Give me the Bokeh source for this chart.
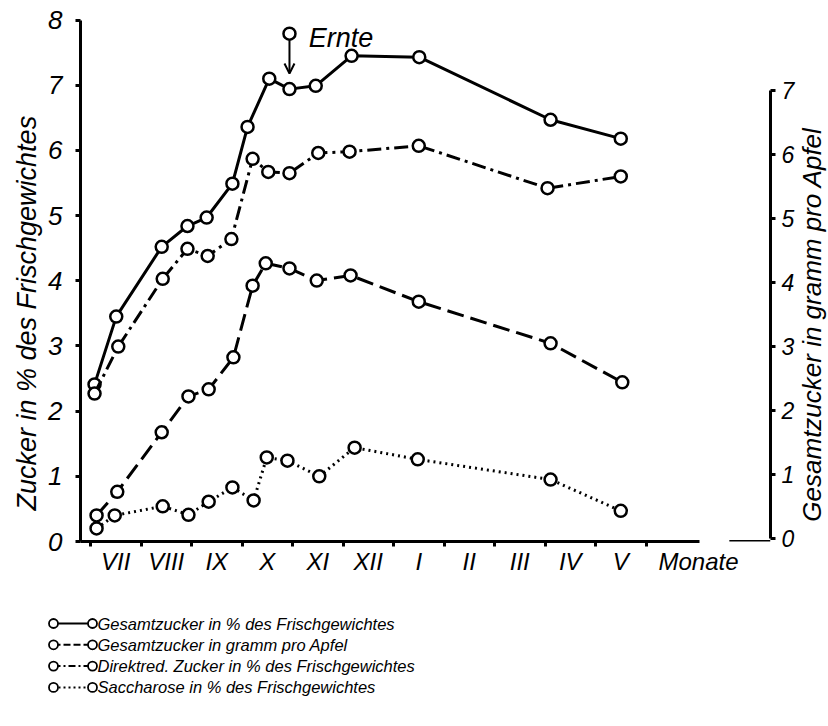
import math
from bokeh.plotting import figure
from bokeh.models import Range1d, LinearAxis, FixedTicker, Label, Arrow, OpenHead, Title
from bokeh.layouts import row
from bokeh.embed import file_html
from bokeh.resources import INLINE
from bokeh.core.properties import value

# ---------------- data (x in months after 1 July) ----------------
months = ["VII", "VIII", "IX", "X", "XI", "XII", "I", "II", "III", "IV", "V"]
month_axis_name = "Monate"
y_left_label = "Zucker in % des Frischgewichtes"
y_right_label = "Gesamtzucker in gramm pro Apfel"
left_ticks = [0, 1, 2, 3, 4, 5, 6, 7, 8]
right_ticks = [0, 1, 2, 3, 4, 5, 6, 7]

series_names = [
    "Gesamtzucker in % des Frischgewichtes",
    "Gesamtzucker in gramm pro Apfel",
    "Direktred. Zucker in % des Frischgewichtes",
    "Saccharose in % des Frischgewichtes",
]

ges_pct_x = [0.08, 0.51, 1.41, 1.92, 2.30, 2.81, 3.11, 3.54, 3.94, 4.46, 5.17, 6.51, 9.11, 10.50]
ges_pct_y = [2.41, 3.45, 4.52, 4.84, 4.97, 5.49, 6.36, 7.10, 6.94, 6.99, 7.45, 7.43, 6.47, 6.18]

ges_g_x = [0.12, 0.53, 1.41, 1.94, 2.34, 2.83, 3.21, 3.47, 3.94, 4.48, 5.15, 6.50, 9.11, 10.53]
ges_g_y = [0.36, 0.73, 1.66, 2.22, 2.33, 2.83, 3.95, 4.30, 4.22, 4.03, 4.11, 3.70, 3.05, 2.44]

direkt_x = [0.08, 0.55, 1.43, 1.92, 2.32, 2.79, 3.21, 3.52, 3.94, 4.51, 5.13, 6.50, 9.05, 10.50]
direkt_y = [2.27, 2.99, 4.03, 4.49, 4.38, 4.64, 5.87, 5.67, 5.65, 5.96, 5.98, 6.07, 5.42, 5.60]

sacch_x = [0.12, 0.48, 1.43, 1.94, 2.34, 2.81, 3.23, 3.49, 3.90, 4.53, 5.23, 6.48, 9.11, 10.50]
sacch_y = [0.20, 0.40, 0.54, 0.41, 0.61, 0.83, 0.63, 1.29, 1.24, 1.00, 1.44, 1.26, 0.95, 0.47]

harvest_x = 3.94
harvest_label = "Ernte"
monate_x = 12.04

# ---------------- styles ----------------
FONT = "Liberation Sans"
INK = "black"
dashes = ["solid", "17 7", "14 5 3 5", "2 4"]
leg_dashes = ["solid", "7 3", "7 3 2 3", "2 3"]

W = 828
PW, PH = 798, 600
BT, BB = 13, 59
p = figure(width=PW, height=PH, output_backend="svg", toolbar_location=None,
           x_range=Range1d(-0.198, 13.465), y_range=Range1d(0, 8.1),
           x_axis_location=None, y_axis_location=None,
           min_border_left=80, min_border_right=28, min_border_top=BT, min_border_bottom=BB)
p.grid.visible = False
p.outline_line_color = None
p.background_fill_color = "white"
p.border_fill_color = "white"
p.extra_y_ranges = {"g": Range1d(-0.047, 8.203)}

left = LinearAxis(ticker=FixedTicker(ticks=left_ticks), bounds=(0, 8))
right = LinearAxis(y_range_name="g", ticker=FixedTicker(ticks=right_ticks), bounds=(0, 7))
for ax, size, stand in ((left, "26px", 13), (right, "23px", 6)):
    ax.axis_line_width = 3
    ax.axis_line_color = INK
    ax.major_tick_line_width = 3
    ax.major_tick_line_color = INK
    ax.major_tick_out = 5
    ax.major_tick_in = 0
    ax.minor_tick_line_color = None
    ax.major_label_text_font = FONT
    ax.major_label_text_font_size = size
    ax.major_label_text_font_style = "italic"
    ax.major_label_text_color = INK
    ax.major_label_standoff = stand
p.add_layout(left, "left")
p.add_layout(right, "right")
p.add_layout(Title(text=y_left_label, align="left", offset=31, standoff=8,
                   text_font=FONT, text_font_size="27px", text_font_style="italic",
                   text_color=INK), "left")

mid = [i + 0.5 for i in range(len(months))]
overrides = {m: lab for m, lab in zip(mid, months)}
overrides[monate_x] = month_axis_name
bottom = LinearAxis(ticker=FixedTicker(ticks=mid + [monate_x],
                                       minor_ticks=list(range(len(months) + 1))),
                    bounds=(-0.198, monate_x + 0.01),
                    major_label_overrides=overrides)
bottom.axis_line_width = 3
bottom.axis_line_color = INK
bottom.major_tick_line_color = None
bottom.major_tick_out = 0
bottom.major_tick_in = 0
bottom.minor_tick_out = 5
bottom.minor_tick_in = 0
bottom.minor_tick_line_width = 3
bottom.minor_tick_line_color = INK
bottom.major_label_text_font = FONT
bottom.major_label_text_font_size = "24px"
bottom.major_label_text_font_style = "italic"
bottom.major_label_text_color = INK
bottom.major_label_standoff = 1
p.add_layout(bottom, "below")

# piece of baseline after the break
p.add_layout(Arrow(end=None, x_start=12.65, y_start=0, x_end=13.465, y_end=0,
                   line_width=3, line_color=INK))

series = [
    (ges_pct_x, ges_pct_y, "default"),
    (ges_g_x, ges_g_y, "g"),
    (direkt_x, direkt_y, "default"),
    (sacch_x, sacch_y, "default"),
]
for (xs, ys, rng), dash in zip(series, dashes):
    p.line(xs, ys, line_color=INK, line_width=3, line_dash=dash, y_range_name=rng)
    p.scatter(xs, ys, marker="circle", size=12, fill_color="white", line_color=INK,
              line_width=2.5, y_range_name=rng)

# harvest marker
p.scatter([harvest_x], [7.79], marker="circle", size=12, fill_color="white",
          line_color=INK, line_width=2.5)
p.add_layout(Arrow(end=OpenHead(size=10, line_width=2, line_color=INK), x_start=harvest_x,
                   y_start=7.69, x_end=harvest_x, y_end=7.18, line_width=2, line_color=INK))
p.add_layout(Label(x=4.32, y=7.73, text=harvest_label, text_font=FONT, text_font_size="27px",
                   text_font_style="italic", text_color=INK,
                   text_baseline="middle", text_align="left"))

# ---------------- right axis title (own strip, reads bottom-to-top) ----------------
RW = W - PW
rlab = figure(width=RW, height=PH, output_backend="svg", toolbar_location=None,
              x_range=Range1d(0, RW), y_range=p.y_range,
              x_axis_location=None, y_axis_location=None,
              min_border_left=0, min_border_right=0, min_border_top=BT, min_border_bottom=BB)
rlab.grid.visible = False
rlab.outline_line_color = None
rlab.add_layout(Label(x=RW / 2 - 2, y=3.33, text=y_right_label, angle=math.pi / 2,
                      text_font=FONT, text_font_size="26px", text_font_style="italic",
                      text_color=INK, text_align="center", text_baseline="middle"))

# ---------------- legend ----------------
LH = 120
leg = figure(width=W, height=LH, output_backend="svg", toolbar_location=None,
             x_range=Range1d(0, W), y_range=Range1d(LH, 0),
             x_axis_location=None, y_axis_location=None, min_border=0)
leg.grid.visible = False
leg.outline_line_color = None
row0, row_gap = 23, 21.3
x0, x1, xt = 53, 92, 97
for i, (name, dash) in enumerate(zip(series_names, leg_dashes)):
    yy = row0 + i * row_gap
    leg.line([x0, x1], [yy, yy], line_color=INK, line_width=2, line_dash=dash)
    leg.scatter([x0, x1], [yy, yy], marker="circle", size=9, fill_color="white",
                line_color=INK, line_width=1.8)
    leg.text(x=[xt], y=[yy], text=[name], text_font=value(FONT), text_font_size="16.5px",
             text_font_style="italic", text_color=INK,
             text_baseline="middle", text_align="left")

open("out.html", "w").write(file_html([row(p, rlab, spacing=0), leg], INLINE))
